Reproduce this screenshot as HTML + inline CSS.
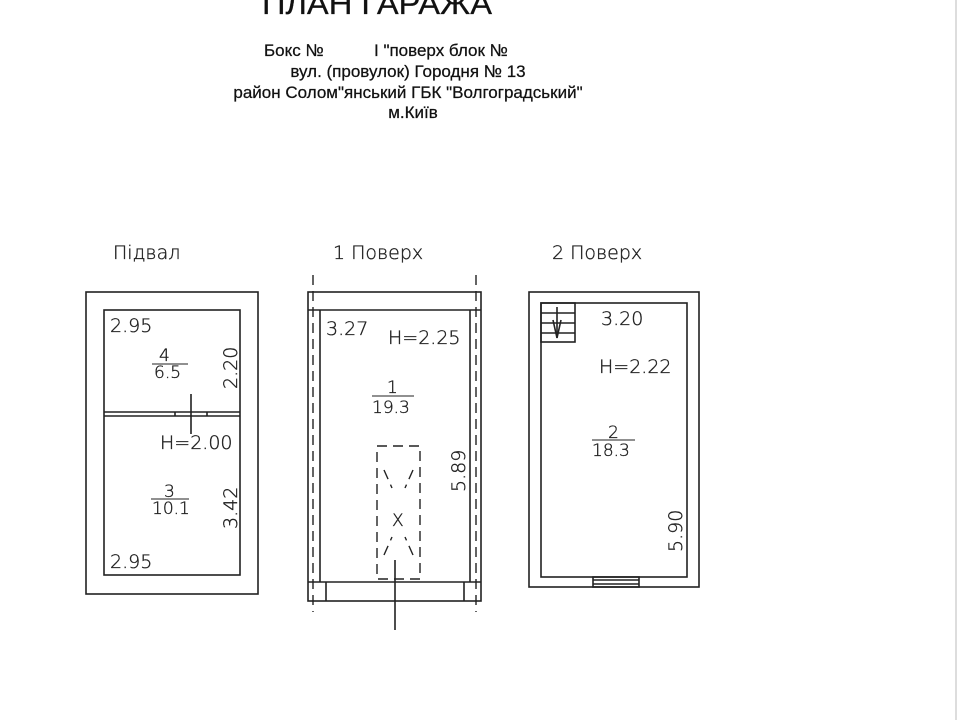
<!DOCTYPE html>
<html><head><meta charset="utf-8"><style>
html,body{margin:0;padding:0;background:#fff;}
svg{display:block;}
.h{font-family:"Liberation Sans",sans-serif;fill:#111;stroke:#111;stroke-width:0.25;}
.c{font-family:"DejaVu Sans","Liberation Sans",sans-serif;font-weight:200;fill:#222;stroke:#222;stroke-width:0.35;font-size:19px;}
</style></head><body>
<svg width="960" height="720" viewBox="0 0 960 720" xmlns="http://www.w3.org/2000/svg">
<rect width="960" height="720" fill="#fff"/>
<line x1="956" y1="0" x2="956" y2="720" stroke="#ddd" stroke-width="2"/>
<text class="h" x="377" y="14" font-size="31" text-anchor="middle" textLength="230" lengthAdjust="spacingAndGlyphs">ПЛАН ГАРАЖА</text>
<g class="h" font-size="17" text-anchor="middle">
<text x="264" y="56" text-anchor="start">Бокс №</text>
<text x="374" y="56" text-anchor="start">І "поверх блок №</text>
<text x="408" y="77">вул. (провулок) Городня № 13</text>
<text x="408" y="98">район Солом"янський ГБК "Волгоградський"</text>
<text x="413" y="118">м.Київ</text>
</g>
<g class="c">
<text x="113" y="259">Підвал</text>
<text x="333" y="259">1 Поверх</text>
<text x="552" y="259">2 Поверх</text>
</g>
<g fill="none" stroke="#222" stroke-width="1.6">
<rect x="86" y="292" width="172" height="302"/>
<rect x="104" y="310" width="136" height="265"/>
<line x1="104" y1="412" x2="240" y2="412"/>
<line x1="104" y1="416" x2="240" y2="416"/>
<line x1="175" y1="412" x2="175" y2="416"/>
<line x1="207" y1="412" x2="207" y2="416"/>
<line x1="191" y1="394" x2="191" y2="434"/>
<rect x="308" y="292" width="173" height="309"/>
<line x1="308" y1="310" x2="481" y2="310"/>
<line x1="320" y1="310" x2="320" y2="582"/>
<line x1="470" y1="310" x2="470" y2="582"/>
<line x1="308" y1="582" x2="481" y2="582"/>
<line x1="326" y1="582" x2="326" y2="601"/>
<line x1="464" y1="582" x2="464" y2="601"/>
<line x1="395" y1="560" x2="395" y2="630"/>
<rect x="529" y="292" width="170" height="295"/>
<rect x="541" y="303" width="146" height="274"/>
<rect x="541" y="303" width="34" height="39"/>
<line x1="541" y1="313" x2="575" y2="313"/>
<line x1="541" y1="323" x2="575" y2="323"/>
<line x1="541" y1="333" x2="575" y2="333"/>
<line x1="557" y1="307" x2="557" y2="338"/>
<path d="M553 320 L557 338 L561 320"/>
<rect x="593" y="577" width="46" height="10"/>
<line x1="593" y1="580" x2="639" y2="580"/>
<line x1="593" y1="584" x2="639" y2="584"/>
</g>
<g fill="none" stroke="#222" stroke-width="1.4" stroke-dasharray="10,6">
<line x1="313" y1="275" x2="313" y2="612"/>
<line x1="476" y1="275" x2="476" y2="612"/>
<rect x="377" y="446" width="43" height="133"/>
<line x1="384" y1="470" x2="392" y2="488"/>
<line x1="413" y1="470" x2="405" y2="488"/>
<line x1="384" y1="555" x2="392" y2="537"/>
<line x1="413" y1="555" x2="405" y2="537"/>
</g>
<g class="c">
<text x="110" y="332">2.95</text>
<text x="110" y="568">2.95</text>
<text x="159" y="361" font-size="17">4</text>
<text x="154" y="378" font-size="17">6.5</text>
<line x1="152" y1="364" x2="188" y2="364" stroke="#222" stroke-width="1"/>
<text x="164" y="497" font-size="17">3</text>
<text x="152" y="514" font-size="17">10.1</text>
<line x1="151" y1="499" x2="189" y2="499" stroke="#222" stroke-width="1"/>
<text x="160" y="449">H=2.00</text>
<text transform="translate(237,389) rotate(-90)">2.20</text>
<text transform="translate(237,529) rotate(-90)">3.42</text>
<text x="326" y="335">3.27</text>
<text x="388" y="344">H=2.25</text>
<text x="387" y="393" font-size="17">1</text>
<text x="372" y="413" font-size="17">19.3</text>
<line x1="372" y1="396" x2="414" y2="396" stroke="#222" stroke-width="1"/>
<text transform="translate(465,492) rotate(-90)">5.89</text>
<text x="601" y="325">3.20</text>
<text x="599" y="373">H=2.22</text>
<text x="608" y="438" font-size="17">2</text>
<text x="592" y="456" font-size="17">18.3</text>
<line x1="592" y1="440" x2="635" y2="440" stroke="#222" stroke-width="1"/>
<text transform="translate(682,552) rotate(-90)">5.90</text>
<text x="392" y="526" font-size="17">X</text>
</g>
</svg>
</body></html>
